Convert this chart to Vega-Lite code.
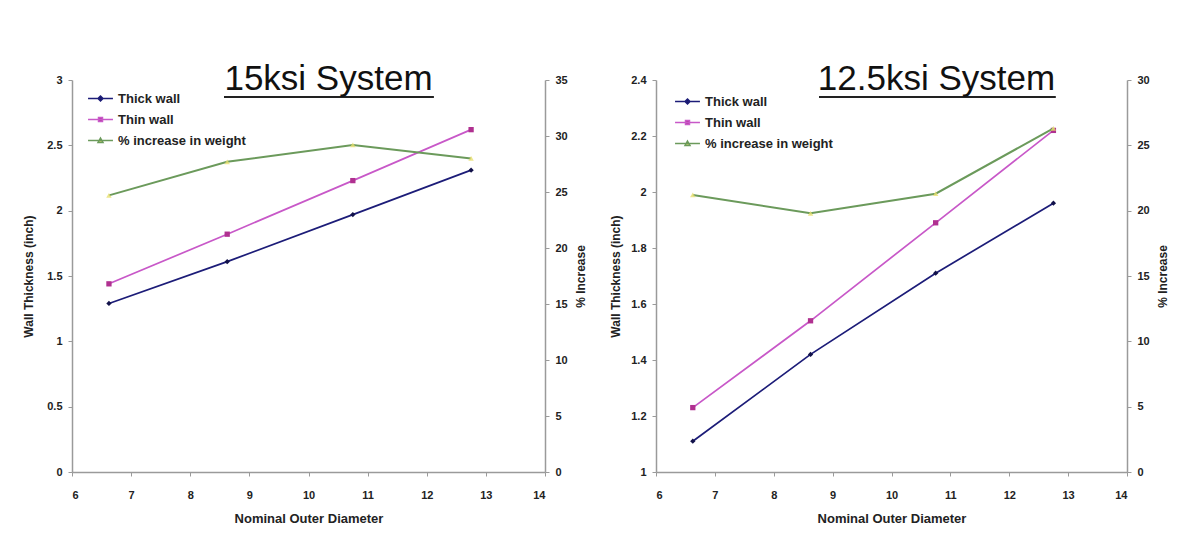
{
  "$schema": "https://vega.github.io/schema/vega-lite/v6.json",
  "background": "white",
  "padding": {"left": 22, "top": 62, "right": 5, "bottom": 5},
  "spacing": 22,
  "config": {
    "font": "Liberation Sans",
    "view": {"stroke": null},
    "axis": {
      "grid": false,
      "domainColor": "#9a9a9a",
      "domainWidth": 1.5,
      "tickColor": "#9a9a9a",
      "tickSize": 4,
      "labelFont": "Liberation Sans",
      "labelFontWeight": "bold",
      "labelFontSize": 11,
      "labelColor": "#222222",
      "labelPadding": 6,
      "titleFont": "Liberation Sans",
      "titleFontWeight": "bold",
      "titleFontSize": 12,
      "titleColor": "#222222"
    },
    "title": {"font": "Liberation Sans", "fontSize": 35, "fontWeight": "normal", "color": "#111111", "baseline": "alphabetic", "anchor": "middle"}
  },
  "datasets": {
    "p15": [
      {"od": 6.625, "series": "Thick wall", "v": 1.29},
      {"od": 8.625, "series": "Thick wall", "v": 1.61},
      {"od": 10.75, "series": "Thick wall", "v": 1.97},
      {"od": 12.75, "series": "Thick wall", "v": 2.31},
      {"od": 6.625, "series": "Thin wall", "v": 1.44},
      {"od": 8.625, "series": "Thin wall", "v": 1.82},
      {"od": 10.75, "series": "Thin wall", "v": 2.23},
      {"od": 12.75, "series": "Thin wall", "v": 2.62},
      {"od": 6.625, "series": "% increase in weight", "v": 24.7},
      {"od": 8.625, "series": "% increase in weight", "v": 27.7},
      {"od": 10.75, "series": "% increase in weight", "v": 29.2},
      {"od": 12.75, "series": "% increase in weight", "v": 28.0}
    ],
    "p125": [
      {"od": 6.625, "series": "Thick wall", "v": 1.11},
      {"od": 8.625, "series": "Thick wall", "v": 1.42},
      {"od": 10.75, "series": "Thick wall", "v": 1.71},
      {"od": 12.75, "series": "Thick wall", "v": 1.96},
      {"od": 6.625, "series": "Thin wall", "v": 1.23},
      {"od": 8.625, "series": "Thin wall", "v": 1.54},
      {"od": 10.75, "series": "Thin wall", "v": 1.89},
      {"od": 12.75, "series": "Thin wall", "v": 2.22},
      {"od": 6.625, "series": "% increase in weight", "v": 21.2},
      {"od": 8.625, "series": "% increase in weight", "v": 19.8},
      {"od": 10.75, "series": "% increase in weight", "v": 21.3},
      {"od": 12.75, "series": "% increase in weight", "v": 26.3}
    ]
  },
  "resolve": {"scale": {"color": "independent", "fill": "independent", "shape": "independent"}, "legend": {"color": "independent"}},
  "hconcat": [
    {
      "title": {"text": "15ksi System", "offset": -23, "dx": 20},
      "width": 473,
      "height": 392,
      "data": {"name": "p15"},
      "layer": [
        {
          "transform": [{"filter": "datum.series !== '% increase in weight'"}],
          "encoding": {
            "x": {"field": "od", "type": "quantitative", "scale": {"domain": [6, 14], "nice": false},
                  "axis": {"values": [6, 7, 8, 9, 10, 11, 12, 13, 14], "format": "~g", "title": "Nominal Outer Diameter", "titleFontSize": 13, "labelPadding": 13, "titlePadding": 12}},
            "y": {"field": "v", "type": "quantitative", "scale": {"domain": [0, 3], "nice": false},
                  "axis": {"values": [0, 0.5, 1, 1.5, 2, 2.5, 3], "format": "~g", "title": "Wall Thickness (inch)", "titlePadding": 11}}
          },
          "layer": [
            {
              "mark": {"type": "line", "strokeWidth": 1.7},
              "encoding": {
                "color": {"field": "series", "type": "nominal",
                  "scale": {"domain": ["Thick wall", "Thin wall", "% increase in weight"], "range": ["#1c1c78", "#c858c8", "#6b9a5b"]},
                  "legend": {"orient": "none", "legendX": 15, "legendY": 5, "title": null, "labelFontSize": 13, "labelFont": "Liberation Sans", "labelFontWeight": "bold", "labelColor": "#222222", "symbolType": "M-1,0H1M0,-0.2L0.2,0L0,0.2L-0.2,0Z", "symbolSize": 620, "symbolStrokeWidth": 1.5, "rowPadding": -2, "labelOffset": 4,
                    "encode": {"symbols": {"update": {
                      "shape": {"signal": "datum.label === 'Thin wall' ? 'M-1,0H1M-0.16,-0.16H0.16V0.16H-0.16Z' : datum.label === 'Thick wall' ? 'M-1,0H1M0,-0.2L0.2,0L0,0.2L-0.2,0Z' : 'M-1,0H1M0,-0.2L0.2,0.16H-0.2Z'"},
                      "fill": {"signal": "datum.label === 'Thin wall' ? '#b03090' : datum.label === 'Thick wall' ? '#12124a' : '#e8e070'"}
                    }}}}
                }
              }
            },
            {
              "mark": {"type": "point", "filled": true, "opacity": 1, "strokeWidth": 0},
              "encoding": {
                "fill": {"field": "series", "type": "nominal", "legend": null,
                  "scale": {"domain": ["Thick wall", "Thin wall"], "range": ["#12124a", "#b03090"]}},
                "shape": {"field": "series", "type": "nominal", "legend": null,
                  "scale": {"domain": ["Thick wall", "Thin wall"], "range": ["diamond", "square"]}},
                "size": {"value": 28}
              }
            },
            {
              "mark": {"type": "rule", "color": "#222222", "strokeWidth": 2},
              "encoding": {
                "x": {"datum": 8.58, "type": "quantitative"},
                "x2": {"datum": 12.11},
                "y": {"datum": 2.87, "type": "quantitative"}
              }
            }
          ]
        },
        {
          "transform": [{"filter": "datum.series === '% increase in weight'"}],
          "encoding": {
            "x": {"field": "od", "type": "quantitative", "scale": {"domain": [6, 14], "nice": false}},
            "y": {"field": "v", "type": "quantitative", "scale": {"domain": [0, 35], "nice": false},
                  "axis": {"orient": "right", "values": [0, 5, 10, 15, 20, 25, 30, 35], "title": "% Increase", "titleAngle": 270, "titleBaseline": "top", "titlePadding": 8}}
          },
          "layer": [
            {
              "mark": {"type": "line", "strokeWidth": 2},
              "encoding": {
                "color": {"field": "series", "type": "nominal",
                  "scale": {"domain": ["Thick wall", "Thin wall", "% increase in weight"], "range": ["#1c1c78", "#c858c8", "#6b9a5b"]}}
              }
            },
            {
              "mark": {"type": "point", "filled": true, "opacity": 0.8, "strokeWidth": 0, "shape": "triangle-up", "fill": "#e8e070", "size": 30},
              "encoding": {}
            }
          ]
        }
      ],
      "resolve": {"scale": {"y": "independent", "fill": "independent", "shape": "independent"}}
    },
    {
      "title": {"text": "12.5ksi System", "offset": -23, "dx": 45},
      "width": 471,
      "height": 392,
      "data": {"name": "p125"},
      "layer": [
        {
          "transform": [{"filter": "datum.series !== '% increase in weight'"}],
          "encoding": {
            "x": {"field": "od", "type": "quantitative", "scale": {"domain": [6, 14], "nice": false},
                  "axis": {"values": [6, 7, 8, 9, 10, 11, 12, 13, 14], "format": "~g", "title": "Nominal Outer Diameter", "titleFontSize": 13, "labelPadding": 13, "titlePadding": 12}},
            "y": {"field": "v", "type": "quantitative", "scale": {"domain": [1, 2.4], "nice": false},
                  "axis": {"values": [1, 1.2, 1.4, 1.6, 1.8, 2, 2.2, 2.4], "format": "~g", "title": "Wall Thickness (inch)", "titlePadding": 8}}
          },
          "layer": [
            {
              "mark": {"type": "line", "strokeWidth": 1.7},
              "encoding": {
                "color": {"field": "series", "type": "nominal",
                  "scale": {"domain": ["Thick wall", "Thin wall", "% increase in weight"], "range": ["#1c1c78", "#c858c8", "#6b9a5b"]},
                  "legend": {"orient": "none", "legendX": 18, "legendY": 8, "title": null, "labelFontSize": 13, "labelFont": "Liberation Sans", "labelFontWeight": "bold", "labelColor": "#222222", "symbolType": "M-1,0H1M0,-0.2L0.2,0L0,0.2L-0.2,0Z", "symbolSize": 620, "symbolStrokeWidth": 1.5, "rowPadding": -2, "labelOffset": 4,
                    "encode": {"symbols": {"update": {
                      "shape": {"signal": "datum.label === 'Thin wall' ? 'M-1,0H1M-0.16,-0.16H0.16V0.16H-0.16Z' : datum.label === 'Thick wall' ? 'M-1,0H1M0,-0.2L0.2,0L0,0.2L-0.2,0Z' : 'M-1,0H1M0,-0.2L0.2,0.16H-0.2Z'"},
                      "fill": {"signal": "datum.label === 'Thin wall' ? '#b03090' : datum.label === 'Thick wall' ? '#12124a' : '#e8e070'"}
                    }}}}
                }
              }
            },
            {
              "mark": {"type": "point", "filled": true, "opacity": 1, "strokeWidth": 0},
              "encoding": {
                "fill": {"field": "series", "type": "nominal", "legend": null,
                  "scale": {"domain": ["Thick wall", "Thin wall"], "range": ["#12124a", "#b03090"]}},
                "shape": {"field": "series", "type": "nominal", "legend": null,
                  "scale": {"domain": ["Thick wall", "Thin wall"], "range": ["diamond", "square"]}},
                "size": {"value": 28}
              }
            },
            {
              "mark": {"type": "rule", "color": "#222222", "strokeWidth": 2},
              "encoding": {
                "x": {"datum": 8.77, "type": "quantitative"},
                "x2": {"datum": 12.78},
                "y": {"datum": 2.339, "type": "quantitative"}
              }
            }
          ]
        },
        {
          "transform": [{"filter": "datum.series === '% increase in weight'"}],
          "encoding": {
            "x": {"field": "od", "type": "quantitative", "scale": {"domain": [6, 14], "nice": false}},
            "y": {"field": "v", "type": "quantitative", "scale": {"domain": [0, 30], "nice": false},
                  "axis": {"orient": "right", "values": [0, 5, 10, 15, 20, 25, 30], "title": "% Increase", "titleAngle": 270, "titleBaseline": "top", "titlePadding": 8}}
          },
          "layer": [
            {
              "mark": {"type": "line", "strokeWidth": 2},
              "encoding": {
                "color": {"field": "series", "type": "nominal",
                  "scale": {"domain": ["Thick wall", "Thin wall", "% increase in weight"], "range": ["#1c1c78", "#c858c8", "#6b9a5b"]}}
              }
            },
            {
              "mark": {"type": "point", "filled": true, "opacity": 0.8, "strokeWidth": 0, "shape": "triangle-up", "fill": "#e8e070", "size": 30},
              "encoding": {}
            }
          ]
        }
      ],
      "resolve": {"scale": {"y": "independent", "fill": "independent", "shape": "independent"}}
    }
  ]
}
